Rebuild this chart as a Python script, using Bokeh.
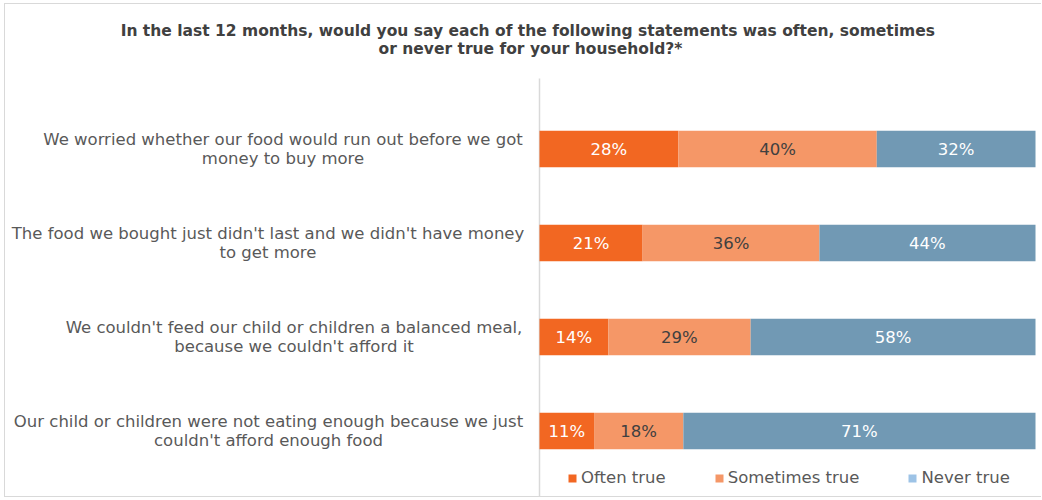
from bokeh.plotting import figure
from bokeh.models import Label, Legend, LegendItem, Range1d
from bokeh.embed import file_html
from bokeh.resources import INLINE
from bokeh.core.properties import value

# ---- data ----
statements = [
    "We worried whether our food would run out before we got\nmoney to buy more",
    "The food we bought just didn't last and we didn't have money\nto get more",
    "We couldn't feed our child or children a balanced meal,\nbecause we couldn't afford it",
    "Our child or children were not eating enough because we just\ncouldn't afford enough food",
]
often = [28, 21, 14, 11]
sometimes = [40, 36, 29, 18]
never = [32, 44, 58, 71]
series_names = ["Often true", "Sometimes true", "Never true"]
title_text = ("In the last 12 months, would you say each of the following  statements was often, sometimes\n"
              "or never true for your household?*")

# ---- styles / layout ----
bar_colors = ["#F26722", "#F59767", "#7199B4"]
legend_colors = ["#F26722", "#F59767", "#9DC3E6"]
pct_colors = ["#FFFFFF", "#404040", "#FFFFFF"]
label_offsets = [-256.5, -271.5, -245.5, -271]
FONT = "DejaVu Sans"
TEXT_GREY = "#595959"

# plot area geometry (pixels)
CANVAS_W, CANVAS_H = 1037, 494
PX_LEFT, PX_BAR0, PX_BAR100 = 5, 539, 1035       # page x of canvas left, 0 % and 100 %
PX_TOP = 4
PX_PER_CAT = 94.0
px_per_unit = (PX_BAR100 - PX_BAR0) / 100.0
x_start = -(PX_BAR0 - PX_LEFT) / px_per_unit
x_end = x_start + CANVAS_W / px_per_unit

n = len(statements)
ys = [n - 1 - i for i in range(n)]
top_cat_px = 148.5
y_end = (n - 1) + (top_cat_px - PX_TOP) / PX_PER_CAT
y_start = y_end - CANVAS_H / PX_PER_CAT
axis_top = (n - 1) + 0.75

series = [often, sometimes, never]
totals = [sum(vals) for vals in zip(*series)]

p = figure(width=CANVAS_W, height=CANVAS_H,
           x_range=Range1d(x_start, x_end), y_range=Range1d(y_start, y_end),
           x_axis_location=None, y_axis_location=None,
           output_backend="svg", toolbar_location=None,
           min_border_left=0, min_border_right=0, min_border_top=0, min_border_bottom=0)
p.outline_line_color = None
p.grid.visible = False
p.styles = {"margin": "3px 0 0 4px",
            "border-top": "1px solid #D9D9D9", "border-left": "1px solid #D9D9D9",
            "border-bottom": "1px solid #D9D9D9"}

# vertical category axis line
p.segment(x0=[0], y0=[y_start], x1=[0], y1=[axis_top], line_color="#D9D9D9", line_width=1.5)

cum = [0.0] * n
renderers = []
for k, vals in enumerate(series):
    lefts = [cum[i] for i in range(n)]
    rights = [cum[i] + vals[i] / totals[i] * 100 for i in range(n)]
    r = p.hbar(y=ys, left=lefts, right=rights, height=0.39,
               fill_color=bar_colors[k], line_color=None)
    renderers.append(r)
    mids = [(a + b) / 2 for a, b in zip(lefts, rights)]
    p.text(x=mids, y=ys, text=[f"{v}%" for v in vals], text_align="center",
           text_baseline="middle", text_color=pct_colors[k],
           text_font=value(FONT), text_font_size="16.5px")
    cum = rights

# legend swatch for "Never true" is lighter than its bars in the original
swatch = p.hbar(y=ys, left=cum, right=cum, height=0.39,
                fill_color=legend_colors[2], line_color=None)
leg_renderers = [renderers[0], renderers[1], swatch]

legend = Legend(items=[LegendItem(label=series_names[k], renderers=[leg_renderers[k]]) for k in range(3)],
                orientation="horizontal", location=(PX_BAR0 - PX_LEFT + 28, 11),
                glyph_width=10, glyph_height=10, label_standoff=4, spacing=48,
                padding=0, margin=0, border_line_color=None, background_fill_alpha=0,
                label_text_font=FONT, label_text_font_size="16.5px", label_text_color=TEXT_GREY,
                label_height=18)
p.add_layout(legend)

for i in range(n):
    p.add_layout(Label(x=0, y=ys[i], x_offset=label_offsets[i], text=statements[i],
                       text_align="center", text_baseline="middle",
                       text_font=FONT, text_font_size="16.5px", text_color=TEXT_GREY,
                       text_line_height=1.03))

p.add_layout(Label(x=0, y=axis_top, x_offset=-9, y_offset=39, text=title_text,
                   text_align="center", text_baseline="middle",
                   text_font=FONT, text_font_size="15.5px", text_font_style="bold",
                   text_color="#404040", text_line_height=1.0))

open("out.html", "w").write(file_html(p, INLINE))
